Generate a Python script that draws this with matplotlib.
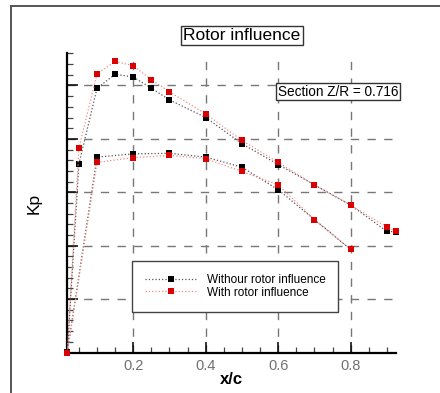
import numpy as np
import matplotlib
matplotlib.use('Agg')
import matplotlib.pyplot as plt
from matplotlib.ticker import MultipleLocator, NullFormatter
from matplotlib.lines import Line2D

plt.rcParams['font.family'] = ['Liberation Sans', 'DejaVu Sans']

# leading edge point (shared by both surfaces)
x_le = 0.018
# upper surface, chordwise stations
x_up = [0.05, 0.1, 0.15, 0.2, 0.25, 0.3, 0.4, 0.5, 0.6, 0.7, 0.8, 0.9, 0.924]
kp_up_without = [3.53, 4.95, 5.21, 5.16, 4.95, 4.73, 4.40, 3.91, 3.52, 3.14, 2.76, 2.27, 2.26]
kp_up_with = [3.83, 5.22, 5.45, 5.37, 5.11, 4.88, 4.47, 3.97, 3.56, 3.14, 2.76, 2.35, 2.27]
# lower surface
x_lo = [0.1, 0.2, 0.3, 0.4, 0.5, 0.6, 0.7, 0.8]
kp_lo_without = [3.66, 3.72, 3.73, 3.66, 3.47, 3.05, 2.49, 1.93]
kp_lo_with = [3.56, 3.65, 3.69, 3.63, 3.39, 3.14, 2.49, 1.93]
kp_le_without = 0.015
kp_le_with = 0.0

labels = ['Withour rotor influence', 'With rotor influence']


def loop(xu, yu, xl, yl, x0, y0):
    # trailing edge -> upper -> leading edge -> lower -> trailing edge
    xs = list(xu[::-1]) + [x0] + list(xl)
    ys = list(yu[::-1]) + [y0] + list(yl)
    return xs, ys


fig = plt.figure(figsize=(4.4, 3.93), dpi=100)
ax = fig.add_axes([0.153, 0.103, 0.746, 0.761])

xb, yb = loop(x_up, kp_up_without, x_lo, kp_lo_without, x_le, kp_le_without)
xr, yr = loop(x_up, kp_up_with, x_lo, kp_lo_with, x_le, kp_le_with)

ax.plot(xb, yb, ls=':', lw=0.9, color='#555555', marker='s', ms=4.4,
        mfc='black', mec='black', mew=0, zorder=3, clip_on=False)
ax.plot(xr, yr, ls=':', lw=0.9, color='#f08a8a', marker='s', ms=4.4,
        mfc='#d80000', mec='#d80000', mew=0, zorder=4, clip_on=False)

ax.set_xlim(x_le, 0.924)
ax.set_ylim(0, 5.6)

ax.xaxis.set_major_locator(MultipleLocator(0.2))
ax.xaxis.set_minor_locator(MultipleLocator(0.05))
ax.yaxis.set_major_locator(MultipleLocator(1))
ax.yaxis.set_minor_locator(MultipleLocator(0.2))
ax.yaxis.set_major_formatter(NullFormatter())

ax.tick_params(which='both', direction='in', color='black')
ax.tick_params(which='major', length=8, width=1.1)
ax.tick_params(which='minor', length=4.5, width=0.9, color='#444444')
ax.tick_params(axis='x', labelsize=10.5, labelcolor='#707070', pad=5)

for s in ['top', 'right']:
    ax.spines[s].set_visible(False)
for s in ['left', 'bottom']:
    ax.spines[s].set_linewidth(1.6)

ax.grid(True, which='major', ls=(0, (6, 6)), lw=1.0, color='#777777')

ax.set_xlabel('x/c', fontsize=12, fontweight='bold', labelpad=-1)
ax.set_ylabel('Kp', fontsize=12.5, labelpad=15)

handles = [
    Line2D([], [], ls=':', lw=0.9, color='#555555', marker='s', ms=4.4,
           mfc='black', mew=0),
    Line2D([], [], ls=':', lw=0.9, color='#f08a8a', marker='s', ms=4.4,
           mfc='#d80000', mew=0),
]
leg = ax.legend(handles, labels, loc='upper left', bbox_to_anchor=(0.196, 0.306),
                borderaxespad=0, fontsize=8.5, numpoints=1, handlelength=4.5,
                handletextpad=0.75, labelspacing=0.05, borderpad=1.1,
                fancybox=False, framealpha=1, edgecolor='#444444')
leg.get_frame().set_linewidth(1.0)
leg.set_zorder(10)

fig.text(0.55, 0.91, 'Rotor influence', fontsize=12.5, ha='center', va='center',
         bbox=dict(boxstyle='square,pad=0.12', fc='white', ec='#333333', lw=1.0))
fig.text(0.768, 0.767, 'Section Z/R = 0.716', fontsize=9.8, ha='center', va='center',
         bbox=dict(boxstyle='square,pad=0.12', fc='white', ec='#333333', lw=1.0),
         zorder=10)

# outer frame lines (top and left)
fig.add_artist(Line2D([11 / 440, 11 / 440], [0, 1 - 6 / 393], color='#555555', lw=1.4))
fig.add_artist(Line2D([11 / 440, 1], [1 - 6 / 393, 1 - 6 / 393], color='#555555', lw=1.4))

fig.savefig('out.png', dpi=100)
